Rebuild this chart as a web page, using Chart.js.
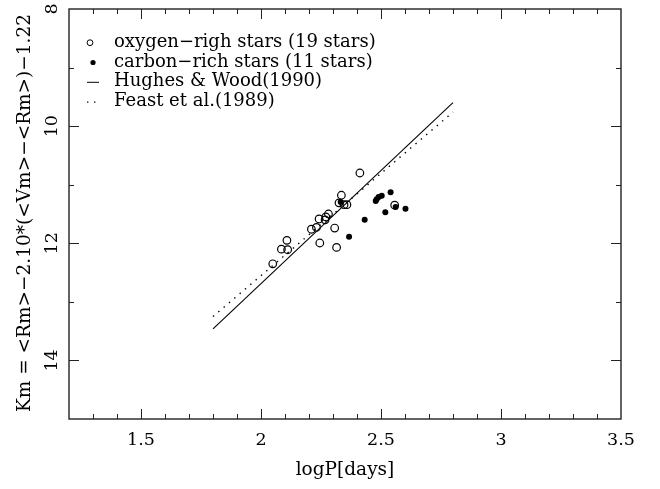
<!DOCTYPE html>
<html><head><meta charset="utf-8">
<script src="https://cdn.jsdelivr.net/npm/chart.js@4/dist/chart.umd.min.js"></script>
<style>html,body{margin:0;padding:0;background:#fff;}</style>
</head><body>
<canvas id="c" width="660" height="489"></canvas>
<script>
// ---- data ----
const oxygenLogP = [2.049, 2.085, 2.108, 2.111, 2.210, 2.231, 2.242, 2.245, 2.267, 2.270, 2.281, 2.307, 2.315, 2.335, 2.325, 2.346, 2.358, 2.412, 2.557];
const oxygenKm   = [12.35, 12.10, 11.95, 12.11, 11.76, 11.73, 11.585, 11.995, 11.60, 11.55, 11.50, 11.74, 12.07, 11.18, 11.31, 11.34, 11.34, 10.80, 11.35];
const carbonLogP = [2.332, 2.367, 2.432, 2.478, 2.482, 2.490, 2.503, 2.540, 2.518, 2.561, 2.602];
const carbonKm   = [11.295, 11.89, 11.60, 11.28, 11.25, 11.21, 11.19, 11.13, 11.47, 11.38, 11.41];
const hughesLogP = [1.8, 2.8];
const hughesKm   = [13.46, 9.60];
const feastLogP  = [1.8, 2.8];
const feastKm    = [13.25, 9.76];
const xTickValues = [1.5, 2, 2.5, 3, 3.5];
const xTickLabels = ['1.5', '2', '2.5', '3', '3.5'];
const yTickValues = [8, 10, 12, 14];
const yTickLabels = ['8', '10', '12', '14'];
const seriesLabels = ['oxygen\u2212righ stars (19 stars)', 'carbon\u2212rich stars (11 stars)', 'Hughes & Wood(1990)', 'Feast et al.(1989)'];
const xTitle = 'logP[days]';
const yTitle = 'Km = <Rm>\u22122.10*(<Vm>\u2212<Rm>)\u22121.22';

const FONT = '"DejaVu Serif", "Liberation Serif", serif';

function pts(xs, ys) { return xs.map((x, i) => ({x: x, y: ys[i]})); }

const framePlugin = {
  id: 'frame',
  afterDraw(chart) {
    const ctx = chart.ctx, a = chart.chartArea;
    const xs = chart.scales.x, ys = chart.scales.y;
    ctx.save();
    ctx.strokeStyle = '#222';
    ctx.lineWidth = 1.4;
    ctx.strokeRect(a.left, a.top, a.right - a.left, a.bottom - a.top);
    ctx.lineWidth = 1;
    ctx.beginPath();
    // x ticks (minor 0.1, major 0.5), bottom and top
    for (let k = 13; k <= 34; k++) {
      const v = k / 10;
      const px = Math.round(xs.getPixelForValue(v)) + 0.5;
      const len = (k % 5 === 0) ? 10 : 5;
      ctx.moveTo(px, a.bottom); ctx.lineTo(px, a.bottom - len);
      ctx.moveTo(px, a.top); ctx.lineTo(px, a.top + len);
    }
    // y ticks (minor 1, major 2), left and right
    for (let v = 9; v <= 14; v++) {
      const py = Math.round(ys.getPixelForValue(v)) + 0.5;
      const len = (v % 2 === 0) ? 10 : 5;
      ctx.moveTo(a.left, py); ctx.lineTo(a.left + len, py);
      ctx.moveTo(a.right, py); ctx.lineTo(a.right - len, py);
    }
    ctx.stroke();

    ctx.fillStyle = '#000';
    ctx.font = '17.5px ' + FONT;
    ctx.textAlign = 'center';
    ctx.textBaseline = 'middle';
    xTickValues.forEach((v, i) => {
      ctx.fillText(xTickLabels[i], xs.getPixelForValue(v), 440);
    });
    yTickValues.forEach((v, i) => {
      ctx.save();
      ctx.translate(52, ys.getPixelForValue(v));
      ctx.rotate(-Math.PI / 2);
      ctx.fillText(yTickLabels[i], 0, 0);
      ctx.restore();
    });
    // axis titles
    ctx.font = '18.5px ' + FONT;
    ctx.fillText(xTitle, (a.left + a.right) / 2, 470);
    ctx.save();
    ctx.translate(25, 213);
    ctx.rotate(-Math.PI / 2);
    ctx.fillText(yTitle, 0, 0);
    ctx.restore();

    // legend
    ctx.font = '18px ' + FONT;
    ctx.textAlign = 'left';
    ctx.textBaseline = 'alphabetic';
    const textX = 114, base0 = 46.7, step = 19.8;
    seriesLabels.forEach((t, i) => {
      const by = base0 + step * i;
      ctx.fillText(t, textX, by);
      const cy = by - 4;
      const ds = chart.data.datasets[i];
      ctx.strokeStyle = '#000';
      if (i === 0) {
        ctx.lineWidth = 1; ctx.beginPath(); ctx.arc(90, cy, 2.9, 0, Math.PI * 2); ctx.stroke();
      } else if (i === 1) {
        ctx.beginPath(); ctx.arc(93, cy, 2.6, 0, Math.PI * 2); ctx.fill();
      } else if (i === 2) {
        ctx.lineWidth = 1; ctx.setLineDash([]); ctx.beginPath(); ctx.moveTo(87, cy); ctx.lineTo(99, cy); ctx.stroke();
      } else {
        ctx.lineWidth = 1.4; ctx.setLineDash(ds.borderDash); ctx.beginPath(); ctx.moveTo(87, cy); ctx.lineTo(101, cy); ctx.stroke(); ctx.setLineDash([]);
      }
    });
    ctx.restore();
  }
};

new Chart(document.getElementById('c'), {
  type: 'scatter',
  data: {
    datasets: [
      { label: seriesLabels[0], data: pts(oxygenLogP, oxygenKm), pointStyle: 'circle', pointRadius: 3.8, pointBorderWidth: 1.2,
        pointBorderColor: '#000', pointBackgroundColor: 'rgba(0,0,0,0)', showLine: false, order: 1 },
      { label: seriesLabels[1], data: pts(carbonLogP, carbonKm), pointStyle: 'circle', pointRadius: 3, pointBorderWidth: 0,
        pointBorderColor: '#000', pointBackgroundColor: '#000', showLine: false, order: 2 },
      { label: seriesLabels[2], data: pts(hughesLogP, hughesKm), showLine: true, borderColor: '#000', borderWidth: 1.1,
        pointRadius: 0, fill: false, order: 3 },
      { label: seriesLabels[3], data: pts(feastLogP, feastKm), showLine: true, borderColor: '#000', borderWidth: 1.4,
        borderDash: [1.4, 5.6], pointRadius: 0, fill: false, order: 4 }
    ]
  },
  options: {
    responsive: false,
    devicePixelRatio: 1,
    animation: false,
    layout: { padding: { left: 69, top: 9, right: 39, bottom: 70 } },
    scales: {
      x: { type: 'linear', min: 1.2, max: 3.5, display: false },
      y: { type: 'linear', min: 8, max: 15, reverse: true, display: false }
    },
    plugins: { legend: { display: false }, tooltip: { enabled: false } }
  },
  plugins: [framePlugin]
});
</script>
</body></html>
